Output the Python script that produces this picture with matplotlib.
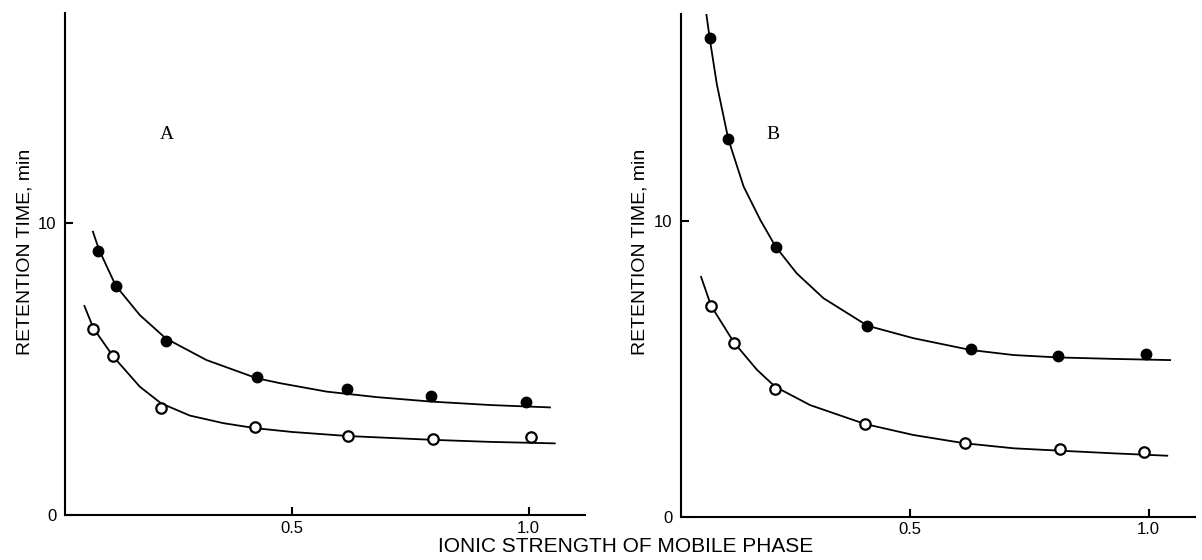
import matplotlib
matplotlib.use("Agg")
import matplotlib.pyplot as plt

# measured retention times, column A
a_x_filled = [0.09, 0.127, 0.233, 0.425, 0.615, 0.793, 0.995]
a_y_filled = [9.03, 7.84, 5.95, 4.73, 4.30, 4.08, 3.88]
a_x_open = [0.080, 0.122, 0.223, 0.422, 0.619, 0.798, 1.005]
a_y_open = [6.36, 5.45, 3.67, 3.02, 2.70, 2.61, 2.68]

# hand-drawn fit lines, column A
a_fit_filled_x = [0.079, 0.092, 0.127, 0.178, 0.233, 0.319, 0.425, 0.474, 0.573, 0.68, 0.793, 0.92, 1.045]
a_fit_filled_y = [9.69, 9.07, 7.85, 6.84, 6.04, 5.30, 4.68, 4.51, 4.22, 4.03, 3.88, 3.76, 3.68]
a_fit_open_x = [0.061, 0.080, 0.122, 0.178, 0.223, 0.284, 0.355, 0.422, 0.50, 0.619, 0.798, 0.92, 1.055]
a_fit_open_y = [7.15, 6.39, 5.42, 4.39, 3.82, 3.40, 3.14, 2.97, 2.84, 2.70, 2.57, 2.50, 2.45]

# measured retention times, column B
b_x_filled = [0.082, 0.121, 0.220, 0.412, 0.628, 0.810, 0.995]
b_y_filled = [16.16, 12.75, 9.10, 6.45, 5.66, 5.44, 5.50]
b_x_open = [0.085, 0.133, 0.219, 0.407, 0.615, 0.814, 0.990]
b_y_open = [7.12, 5.88, 4.31, 3.13, 2.50, 2.29, 2.18]

# hand-drawn fit lines, column B
b_fit_filled_x = [0.074, 0.082, 0.097, 0.121, 0.153, 0.188, 0.220, 0.264, 0.320, 0.412, 0.508, 0.628, 0.718, 0.810, 0.927, 1.045]
b_fit_filled_y = [17.1, 16.16, 14.6, 12.75, 11.15, 10.02, 9.12, 8.22, 7.38, 6.45, 6.03, 5.63, 5.46, 5.38, 5.33, 5.29]
b_fit_open_x = [0.064, 0.085, 0.133, 0.181, 0.219, 0.292, 0.407, 0.508, 0.615, 0.718, 0.814, 0.927, 1.039]
b_fit_open_y = [8.1, 7.12, 5.88, 4.96, 4.39, 3.77, 3.13, 2.76, 2.48, 2.31, 2.23, 2.14, 2.06]

x_ticks = [0.5, 1.0]
x_tick_labels = ["0.5", "1.0"]
y_ticks = [0, 10]
y_tick_labels = ["0", "10"]

SANS = ["Liberation Sans", "DejaVu Sans"]
SERIF = ["Liberation Serif", "DejaVu Serif"]

W, H = 1202, 560
fig = plt.figure(figsize=(W / 100, H / 100), dpi=100)


def make_axes(left, right, bottom, top, xmin, xmax, ymax):
    ax = fig.add_axes([left / W, 1 - bottom / H, (right - left) / W, (bottom - top) / H])
    ax.set_xlim(xmin, xmax)
    ax.set_ylim(0, ymax)
    for side in ["top", "right"]:
        ax.spines[side].set_visible(False)
    for side in ["left", "bottom"]:
        ax.spines[side].set_linewidth(1.5)
    ax.set_xticks(x_ticks)
    ax.set_xticklabels(x_tick_labels, family=SANS, fontsize=12)
    ax.set_yticks(y_ticks)
    ax.set_yticklabels(y_tick_labels, family=SANS, fontsize=12)
    ax.tick_params(direction="in", length=6, width=1.5)
    ax.tick_params(axis="y", pad=6)
    ax.tick_params(axis="x", pad=4)
    ax.set_ylabel("RETENTION TIME, min", family=SANS, fontsize=14, va="center")
    return ax


def draw_panel(ax, fx, fy, ox, oy, px_f, py_f, px_o, py_o, letter, lx, ly):
    ax.plot(fx, fy, color="black", linewidth=1.3)
    ax.plot(ox, oy, color="black", linewidth=1.3)
    ax.plot(px_f, py_f, "o", color="black", markersize=7.5, zorder=3)
    ax.plot(px_o, py_o, "o", markerfacecolor="white", markeredgecolor="black",
            markersize=7.5, markeredgewidth=1.6, zorder=3)
    ax.text(lx, ly, letter, family=SERIF, fontsize=14, ha="center", va="center")


ax_a = make_axes(65, 585, 515, 13, 0.02, 1.119, 17.17)
draw_panel(ax_a, a_fit_filled_x, a_fit_filled_y, a_fit_open_x, a_fit_open_y,
           a_x_filled, a_y_filled, a_x_open, a_y_open, "A", 0.235, 13.0)
ax_a.yaxis.set_label_coords(-0.077, 0.524)

ax_b = make_axes(681, 1195, 516.7, 14, 0.022, 1.097, 16.98)
draw_panel(ax_b, b_fit_filled_x, b_fit_filled_y, b_fit_open_x, b_fit_open_y,
           b_x_filled, b_y_filled, b_x_open, b_y_open, "B", 0.215, 12.9)
ax_b.yaxis.set_label_coords(-0.080, 0.527)

fig.text(626 / W, 1 - 547 / H, "IONIC STRENGTH OF MOBILE PHASE",
         family=SANS, fontsize=15, ha="center", va="center")

plt.savefig("out.png", dpi=100)
